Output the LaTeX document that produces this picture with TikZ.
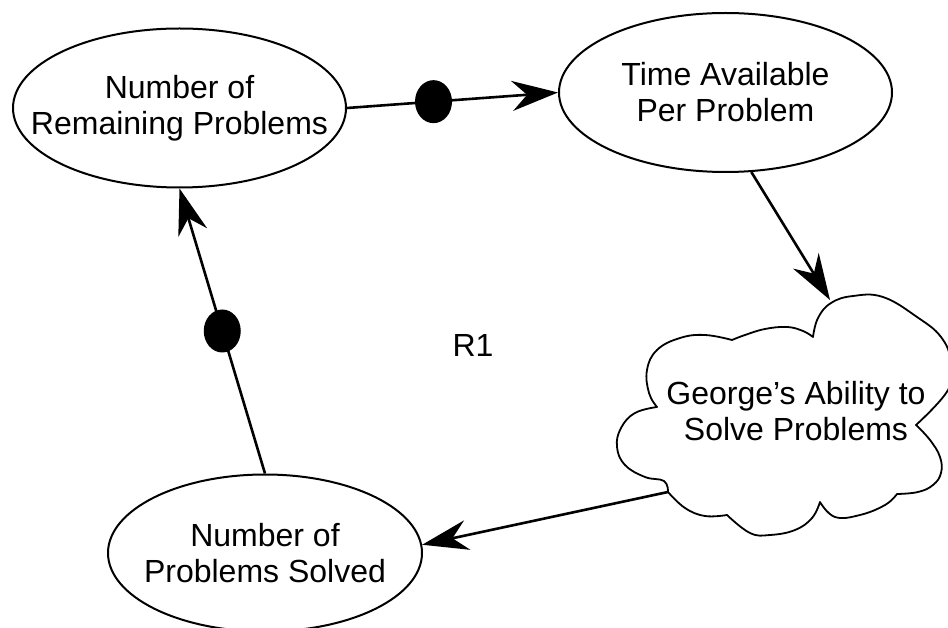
\documentclass[tikz,border=0pt]{standalone}
\usepackage{fontspec}
\setmainfont{Liberation Sans}
\usetikzlibrary{shapes.geometric,arrows.meta}
\begin{document}
\begin{tikzpicture}[x=1pt,y=-1pt,
  bubble/.style={draw, ellipse, line width=2pt, minimum width=333pt, minimum height=159pt, inner sep=0pt},
  lbl/.style={align=center, font=\fontsize{32}{36}\selectfont, inner sep=0pt},
  link/.style={line width=2.6pt, -{Stealth[length=46pt,width=30pt,inset=15pt]}},
  dotmark/.style={ellipse, fill=black, minimum width=37pt, minimum height=43pt, inner sep=0pt},
  cloudline/.style={line width=1.8pt, line join=round}]

\useasboundingbox (0,0) rectangle (948,628);

% variables drawn as ellipses
\node[bubble] (rem) at (179.5,108) {};
\node[lbl] at (rem) {Number of\\Remaining Problems};

\node[bubble] (time) at (725.5,92.5) {};
\node[lbl] at (time) {Time Available\\Per Problem};

\node[bubble, minimum width=314pt, minimum height=157pt] (sol) at (265,553) {};
\node[lbl] at (sol) {Number of\\Problems Solved};

% cloud-shaped variable
\draw[cloudline]
  plot[smooth, tension=0.7] coordinates {(813,337) (818,318) (831,303) (853,296) (883,297) (917,317) (941,337) (951,362) (948,390) (916,425)}
  -- plot[smooth, tension=0.7] coordinates {(916,425) (930,440) (940,457) (941,473) (933,485) (918,492) (897,494)}
  -- plot[smooth, tension=0.7] coordinates {(897,494) (885,505) (860,515) (835,517) (820,502)}
  -- plot[smooth, tension=0.7] coordinates {(820,502) (812,518) (795,530) (770,535) (750,533) (727,515)}
  -- plot[smooth, tension=0.7] coordinates {(727,515) (705,516) (685,508) (668,492)}
  -- plot[smooth, tension=0.7] coordinates {(668,492) (664,481) (645,477) (625,465) (617,447) (621,428) (635,413) (657,407)}
  -- plot[smooth, tension=0.7] coordinates {(657,407) (649,393) (647,370) (657,350) (680,338) (705,335) (732,340)}
  -- plot[smooth, tension=0.7] coordinates {(732,340) (745,335) (765,329) (787,327) (803,331) (813,337)}
  -- cycle;
\node[lbl] (ability) at (796,411.5) {George’s Ability to\\Solve Problems};
\coordinate (cloudin) at (830,300);
\coordinate (cloudout) at (668,492);

% loop label
\node[lbl] (loop) at (473,345.5) {R1};

% causal links
\draw[link] (rem.east) -- node[dotmark, pos=0.41] (d1) {} (time.west);
\draw[link] (time.-72) -- (cloudin);
\draw[link] (cloudout) -- (sol.3);
\draw[link] (sol.north) -- node[dotmark, pos=0.5] (d2) {} (rem.south);
\end{tikzpicture}
\end{document}
